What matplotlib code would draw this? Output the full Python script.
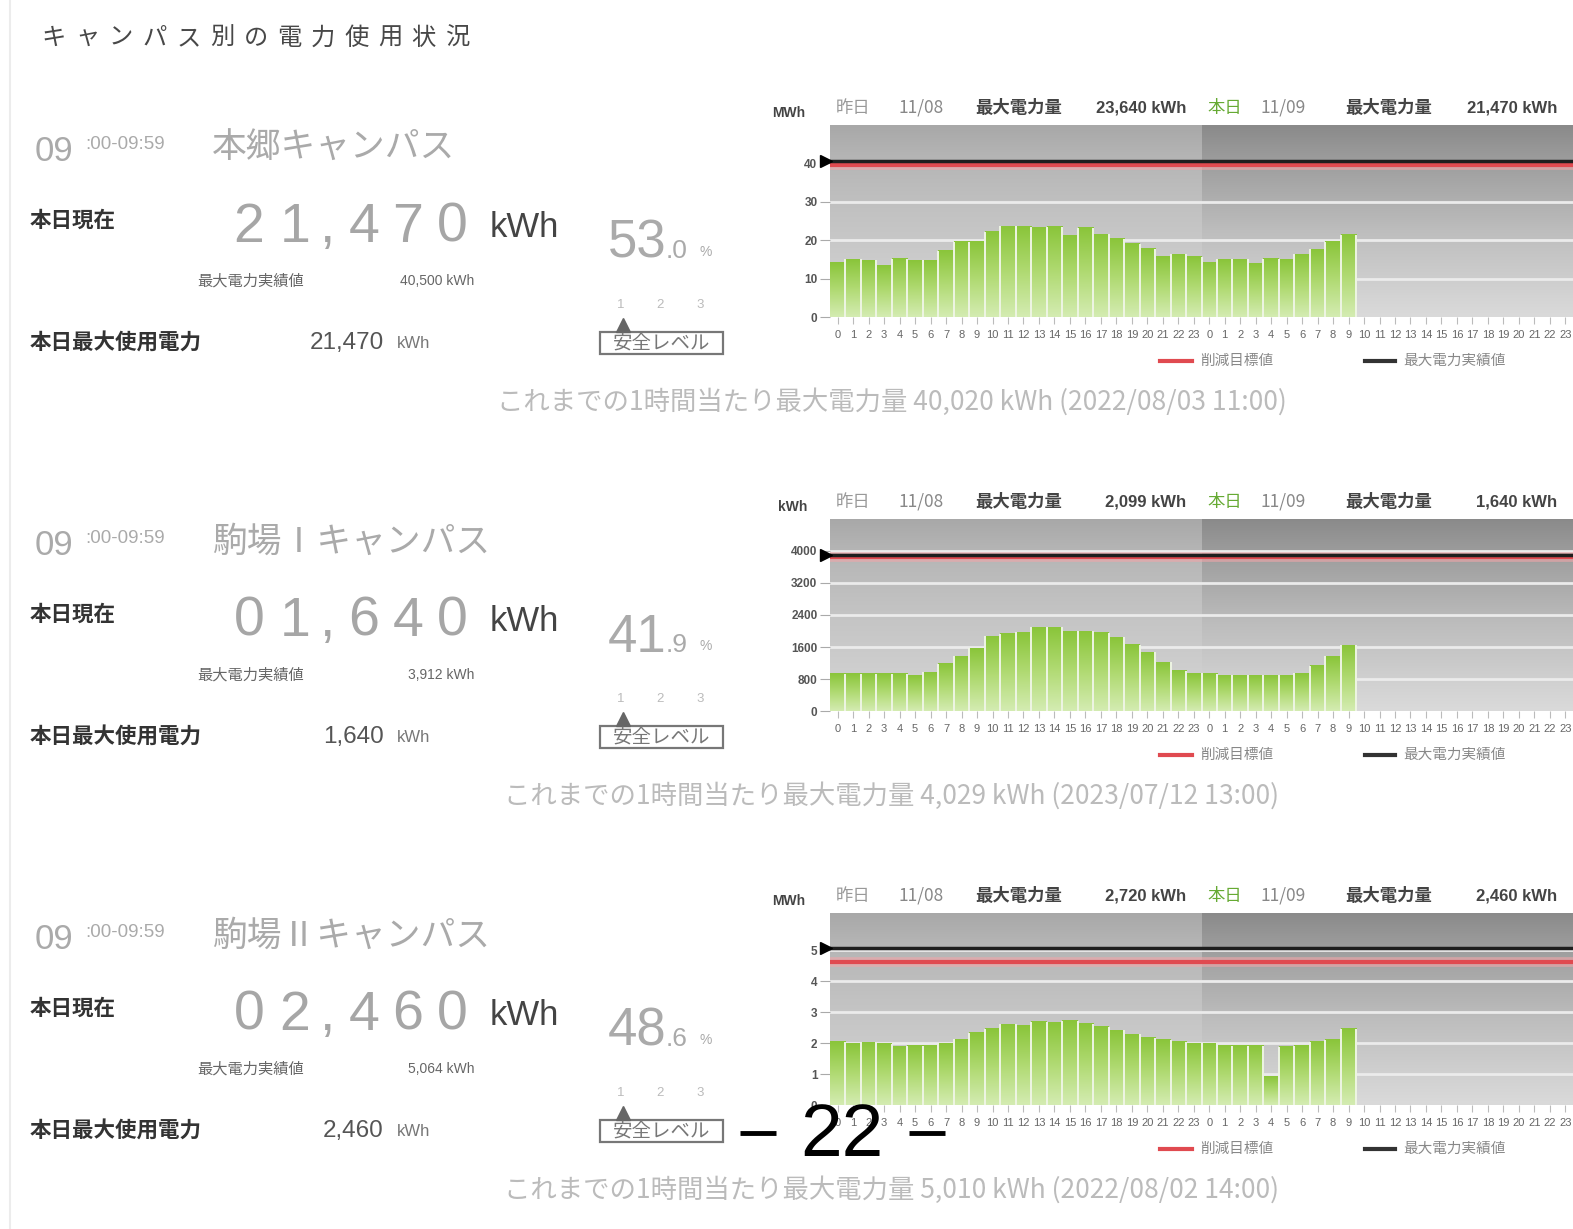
import numpy as np
import matplotlib
matplotlib.use('Agg')
import matplotlib.pyplot as plt
from matplotlib.colors import LinearSegmentedColormap
from matplotlib.patches import Rectangle
from matplotlib.transforms import blended_transform_factory

W, H = 1573, 1229
JP = ['Noto Sans CJK JP', 'DejaVu Sans']
LAT = ['Liberation Sans', 'Noto Sans CJK JP', 'DejaVu Sans']
NARROW = ['Liberation Sans Narrow', 'Liberation Sans', 'DejaVu Sans']

# ---------------- data ----------------
page_title = "キャンパス別の電力使用状況"
campus_names = ["本郷キャンパス", "駒場Ⅰキャンパス", "駒場Ⅱキャンパス"]
hour_label = "09"
hour_range = ":00-09:59"
current_kwh = [21470, 1640, 2460]
usage_pct = [53.0, 41.9, 48.6]
record_kwh = [40500, 3912, 5064]
peak_today_kwh = [21470, 1640, 2460]
yday_date = "11/08"
today_date = "11/09"
yday_max_kwh = [23640, 2099, 2720]
today_max_kwh = [21470, 1640, 2460]
alltime_max_kwh = [40020, 4029, 5010]
alltime_max_when = ["2022/08/03 11:00", "2023/07/12 13:00", "2022/08/02 14:00"]
chart_units = ["MWh", "kWh", "MWh"]
chart_yticks = [[0, 10, 20, 30, 40],
                [0, 800, 1600, 2400, 3200, 4000],
                [0, 1, 2, 3, 4, 5]]
chart_ymax = [50, 4800, 6.2]
target_line = [39.5, 3850, 4.62]
record_line = [40.5, 3912, 5.064]
hours = list(range(24))
level_labels = ["1", "2", "3"]

hongo_yday = [14.3, 15.0, 14.8, 13.5, 15.2, 14.8, 14.6, 17.2, 19.6, 19.6, 22.2, 23.64,
              23.5, 23.3, 23.5, 21.3, 23.3, 21.6, 20.4, 19.1, 17.8, 15.7, 16.3, 15.7]
hongo_today = [14.3, 15.0, 15.0, 13.9, 15.2, 15.0, 16.3, 17.6, 19.6, 21.47]
komaba1_yday = [926, 926, 926, 926, 926, 876, 968, 1179, 1364, 1575, 1869, 1937,
                1970, 2099, 2090, 1996, 1996, 1953, 1844, 1659, 1474, 1213, 1002, 943]
komaba1_today = [926, 900, 900, 900, 900, 900, 943, 1137, 1364, 1640]
komaba2_yday = [2.04, 1.97, 2.02, 1.97, 1.88, 1.91, 1.91, 1.99, 2.13, 2.34, 2.47, 2.60,
                2.58, 2.69, 2.66, 2.72, 2.63, 2.53, 2.42, 2.28, 2.17, 2.10, 2.04, 1.99]
komaba2_today = [1.99, 1.91, 1.91, 1.91, 0.91, 1.88, 1.91, 2.04, 2.10, 2.46]
series_yday = [hongo_yday, komaba1_yday, komaba2_yday]
series_today = [hongo_today, komaba1_today, komaba2_today]
page_number = "22"

# ---------------- figure ----------------
fig = plt.figure(figsize=(W / 100, H / 100), dpi=100)
fig.patch.set_facecolor('white')
ax0 = fig.add_axes([0, 0, 1, 1], zorder=0)
ax0.set_xlim(0, W)
ax0.set_ylim(H, 0)
ax0.axis('off')


def T(x, y, s, size, color, family=JP, weight='normal', ha='left', va='center', ax=None):
    (ax or ax0).text(x, y, s, fontsize=size, color=color, family=family,
                     fontweight=weight, ha=ha, va=va)


ax0.plot([10, 10], [0, H], color='#ececec', lw=1.5)

# title, letter-spaced
for i, ch in enumerate(page_title):
    T(54 + i * 33.6, 38, ch, 17.5, '#484848', ha='center')

green_cmap = LinearSegmentedColormap.from_list('g', ['#d4ecb2', '#b0da72', '#8ac53a'])
bg_y = LinearSegmentedColormap.from_list('by', [(0, '#d6d6d6'), (0.55, '#c2c2c2'),
                                               (0.85, '#b4b4b4'), (1, '#a8a8a8')])
bg_t = LinearSegmentedColormap.from_list('bt', [(0, '#dadada'), (0.45, '#bdbdbd'),
                                               (0.85, '#9a9a9a'), (1, '#8a8a8a')])
grad = np.linspace(0, 1, 128).reshape(-1, 1)

for k in range(3):
    dy = k * 394
    # left info block
    T(35, 161 + dy, hour_label, 25, '#aaaaaa', family=LAT, va='baseline')
    T(85, 149 + dy, hour_range, 13.5, '#aaaaaa', family=LAT, va='baseline')
    T(212, 148 + dy, campus_names[k], 25, '#aaaaaa')
    T(30, 220 + dy, "本日現在", 15.5, '#333333', weight='bold')
    digits = f"{current_kwh[k]:06,d}"
    for cx, ch in zip([249, 295, 327, 364, 408, 452], digits):
        T(cx, 242 + dy, ch, 40, '#a6a6a6', family=LAT, ha='center', va='baseline')
    T(490, 237 + dy, "kWh", 25, '#444444', family=LAT, va='baseline')
    T(197, 281 + dy, "最大電力実績値", 11, '#666666')
    T(474, 281 + dy, f"{record_kwh[k]:,} kWh", 10, '#666666', family=LAT, ha='right')
    T(30, 343 + dy, "本日最大使用電力", 15.5, '#333333', weight='bold')
    T(384, 343 + dy, f"{peak_today_kwh[k]:,}", 17.5, '#555555', family=LAT, ha='right')
    T(397, 344 + dy, "kWh", 12, '#777777', family=LAT)
    ip, fp = f"{usage_pct[k]:.1f}".split('.')
    T(608, 258 + dy, ip, 38, '#aaaaaa', family=LAT, va='baseline')
    T(666, 258 + dy, '.' + fp, 19, '#aaaaaa', family=LAT, va='baseline')
    T(699, 256 + dy, '%', 10, '#aaaaaa', family=LAT, va='baseline')
    for lx, lab in zip([621, 660, 700], level_labels):
        T(lx, 305 + dy, lab, 9.5, '#bbbbbb', family=LAT, ha='center')
    ax0.plot([623], [325 + dy], marker='^', ms=10, color='#666666')
    ax0.add_patch(Rectangle((600, 332 + dy), 123, 22, fill=False, ec='#777777', lw=1.6))
    T(662, 343 + dy, "安全レベル", 14, '#777777', ha='center')
    T(892, 402 + dy,
      f"これまでの1時間当たり最大電力量 {alltime_max_kwh[k]:,} kWh ({alltime_max_when[k]})",
      19, '#bbbbbb', ha='center')

    # chart header
    T(772 if chart_units[k] == "MWh" else 778, 113 + dy, chart_units[k], 10, '#444444',
      family=LAT, weight='bold')
    T(836, 108 + dy, "昨日", 12.5, '#999999')
    T(898, 108 + dy, yday_date, 12.5, '#888888')
    T(975, 108 + dy, "最大電力量", 12.5, '#444444', weight='bold')
    T(1186, 108 + dy, f"{yday_max_kwh[k]:,} kWh", 12, '#444444', family=LAT, weight='bold', ha='right')
    T(1207, 108 + dy, "本日", 12.5, '#66aa33')
    T(1261, 108 + dy, today_date, 12.5, '#888888')
    T(1345, 108 + dy, "最大電力量", 12.5, '#444444', weight='bold')
    T(1557, 108 + dy, f"{today_max_kwh[k]:,} kWh", 12, '#444444', family=LAT, weight='bold', ha='right')

    # legend
    ax0.plot([1160, 1192], [361 + dy] * 2, color='#e04a50', lw=3)
    T(1200, 361 + dy, "削減目標値", 10.5, '#888888')
    ax0.plot([1365, 1395], [361 + dy] * 2, color='#333333', lw=3)
    T(1403, 361 + dy, "最大電力実績値", 10.5, '#888888')

    # chart axes
    top = 125 + dy
    ax = fig.add_axes([830 / W, 1 - (top + 192) / H, (W - 830) / W, 192 / H], zorder=2)
    ymax = chart_ymax[k]
    ax.imshow(grad, extent=[-0.5, 23.5, 0, ymax], origin='lower', cmap=bg_y,
              aspect='auto', zorder=0, interpolation='bicubic')
    ax.imshow(grad, extent=[23.5, 47.5, 0, ymax], origin='lower', cmap=bg_t,
              aspect='auto', zorder=0, interpolation='bicubic')
    for t in chart_yticks[k][1:]:
        ax.axhline(t, color='#ebebeb', lw=2, zorder=1)
    vals = np.array(list(series_yday[k]) + list(series_today[k]))
    xs = np.arange(len(vals))
    bars = ax.bar(xs, vals, width=1.0, color='none', edgecolor='none', zorder=3)
    for b in bars:
        ax.imshow(grad, extent=[b.get_x(), b.get_x() + b.get_width(), 0, b.get_height()],
                  origin='lower', cmap=green_cmap, aspect='auto', zorder=3,
                  interpolation='bicubic')
    # light separators between neighbouring bars
    ax.vlines(xs[:-1] + 0.5, 0, np.maximum(vals[:-1], vals[1:]), color='#eef5e4',
              lw=1.4, zorder=3.5)
    ax.vlines([xs[-1] + 0.5], 0, [vals[-1]], color='#eef5e4', lw=1.4, zorder=3.5)
    ax.axhline(target_line[k], color='#f2a5a8', lw=7, alpha=0.6, zorder=4)
    ax.axhline(target_line[k], color='#e04a50', lw=3, zorder=5)
    ax.axhline(record_line[k], color='#1e1e1e', lw=2.5, zorder=6)
    tr = blended_transform_factory(ax.transAxes, ax.transData)
    ax.plot([-0.006], [record_line[k]], marker='>', ms=9, color='black',
            transform=tr, clip_on=False, zorder=7)
    ax.set_xlim(-0.5, 47.5)
    ax.set_ylim(0, ymax)
    ax.set_xticks(np.arange(48))
    ax.set_xticklabels([str(h) for h in hours] * 2, family=NARROW)
    ax.set_yticks(chart_yticks[k])
    ax.set_yticklabels([str(t) for t in chart_yticks[k]], family=LAT, fontweight='bold')
    ax.tick_params(axis='x', length=5, color='#bbbbbb', labelsize=8, labelcolor='#666666', pad=4)
    ax.tick_params(axis='y', length=7, color='#aaaaaa', labelsize=8.5, labelcolor='#555555', pad=2)
    for s in ax.spines.values():
        s.set_visible(False)

# page number overlay
axt = fig.add_axes([0, 0, 1, 1], zorder=10)
axt.set_xlim(0, W)
axt.set_ylim(H, 0)
axt.axis('off')
axt.patch.set_alpha(0)
axt.plot([740, 776], [1133, 1133], color='black', lw=3.5, solid_capstyle='butt')
axt.plot([909, 945], [1133, 1133], color='black', lw=3.5, solid_capstyle='butt')
axt.text(842, 1137, page_number, fontsize=54, family=NARROW, ha='center', va='center',
         color='black', fontweight='medium')

fig.savefig('out.png', dpi=100, facecolor='white')
